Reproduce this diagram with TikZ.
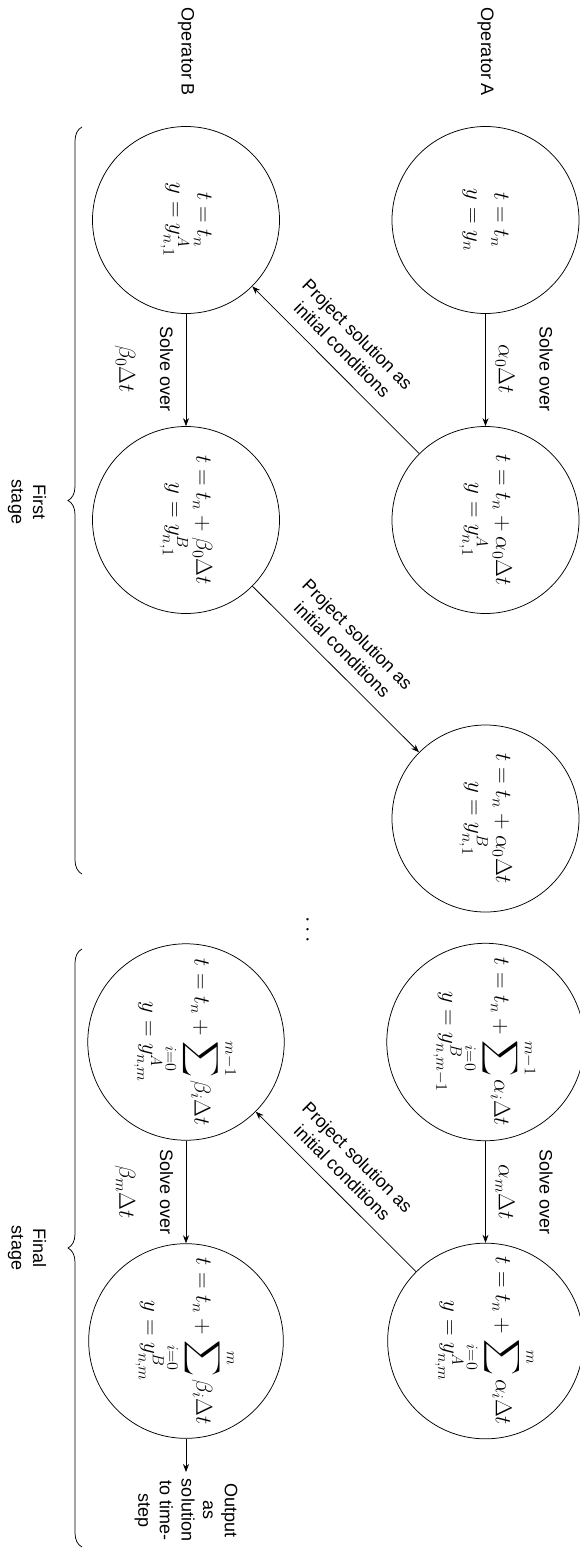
\documentclass[tikz,border=0pt]{standalone}
\usepackage{fix-cm}
\usepackage{exscale}
\usepackage[no-math]{fontspec}
\setmainfont{Liberation Sans}
\usetikzlibrary{arrows.meta,decorations.pathreplacing}
\newcommand\tfont{\fontsize{18}{21.6}\selectfont}
\newcommand\mfont{\fontsize{23}{27.6}\selectfont}
\begin{document}
\begin{tikzpicture}[x=1pt,y=-1pt,line width=0.75pt,
  state/.style={circle,draw,minimum size=187pt,inner sep=0pt,align=center,rotate=-90,font=\mfont},
  lbl/.style={rotate=-90,align=center,font=\tfont,inner sep=0pt},
  diag/.style={rotate=-45,align=center,font=\tfont,inner sep=0pt},
  arr/.style={-{Stealth[length=8pt,width=6pt]}},
  brc/.style={decorate,decoration={brace,amplitude=14pt}}]
\useasboundingbox (0,0) rectangle (580,1550);
% operator labels
\node[lbl] (opA) at (485.5,52) {Operator A};
\node[lbl] (opB) at (186,52) {Operator B};
% states
\node[state] (A0) at (485.5,220) {$t=t_n$\\$y=y_n$};
\node[state] (B0) at (186,220) {$t=t_n$\\$y=y^{A}_{n,1}$};
\node[state] (A1) at (485.5,520) {$t=t_n+\alpha_0\Delta t$\\$y=y^{A}_{n,1}$};
\node[state] (B1) at (186,520) {$t=t_n+\beta_0\Delta t$\\$y=y^{B}_{n,1}$};
\node[state] (A2) at (485.5,818.5) {$t=t_n+\alpha_0\Delta t$\\$y=y^{B}_{n,1}$};
\node[state] (A3) at (485.5,1042) {$t=t_n+\displaystyle\sum_{i=0}^{m-1}\alpha_i\Delta t$\\$y=y^{B}_{n,m-1}$};
\node[state] (B3) at (186,1042) {$t=t_n+\displaystyle\sum_{i=0}^{m-1}\beta_i\Delta t$\\$y=y^{A}_{n,m}$};
\node[state] (A4) at (485.5,1341) {$t=t_n+\displaystyle\sum_{i=0}^{m}\alpha_i\Delta t$\\$y=y^{A}_{n,m}$};
\node[state] (B4) at (186,1341) {$t=t_n+\displaystyle\sum_{i=0}^{m}\beta_i\Delta t$\\$y=y^{B}_{n,m}$};
\coordinate (out) at (186,1472);
% connectors
\draw[arr] (A0) -- (A1);
\draw[arr] (B0) -- (B1);
\draw[arr] (A1) -- (B0);
\draw[arr] (B1) -- (A2);
\draw[arr] (A3) -- (A4);
\draw[arr] (B3) -- (B4);
\draw[arr] (A4) -- (B3);
\draw[arr] (B4) -- (out);
% edge labels
\node[lbl] (sA0) at (524,369) {Solve over\\[19pt]{\mfont$\alpha_0\Delta t$}};
\node[lbl] (sB0) at (144,369) {Solve over\\[19pt]{\mfont$\beta_0\Delta t$}};
\node[lbl] (sAm) at (524,1192) {Solve over\\[19pt]{\mfont$\alpha_m\Delta t$}};
\node[lbl] (sBm) at (144,1192) {Solve over\\[19pt]{\mfont$\beta_m\Delta t$}};
\node[diag] (p1) at (350,342) {Project solution as\\initial conditions};
\node[diag] (p2) at (350,642) {Project solution as\\initial conditions};
\node[diag] (p3) at (350,1165) {Project solution as\\initial conditions};
\node[lbl,font=\mfont] (dots) at (307,930) {$\cdots$};
\node[lbl] (outl) at (186,1510) {Output\\as\\solution\\to time-\\step};
% stages
\draw[brc] (82,874) -- (82,127);
\draw[brc] (82,1547) -- (82,949);
\node[lbl] (st1) at (27,502) {First\\stage};
\node[lbl] (st2) at (27,1248) {Final\\stage};
\end{tikzpicture}
\end{document}
